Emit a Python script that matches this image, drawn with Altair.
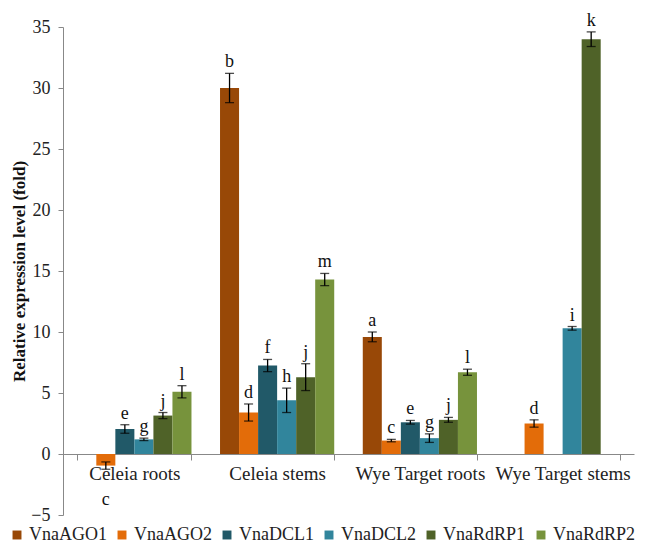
import altair as alt
import pandas as pd

groups = ["Celeia roots", "Celeia stems", "Wye Target roots", "Wye Target stems"]
genes = ["VnaAGO1", "VnaAGO2", "VnaDCL1", "VnaDCL2", "VnaRdRP1", "VnaRdRP2"]
colors = ["#984807", "#E36C09", "#215968", "#31859C", "#4F6228", "#77933C"]

# values per group, gene order as in `genes` (None = no bar)
values = {
    "Celeia roots":     [None, -0.95, 2.05, 1.2, 3.15, 5.1],
    "Celeia stems":     [30.0, 3.4, 7.25, 4.4, 6.3, 14.3],
    "Wye Target roots": [9.6, 1.1, 2.6, 1.3, 2.8, 6.7],
    "Wye Target stems": [None, 2.5, None, 10.3, 34.0, None],
}
errors = {
    "Celeia roots":     [None, 0.3, 0.35, 0.1, 0.25, 0.5],
    "Celeia stems":     [1.2, 0.7, 0.5, 1.0, 1.1, 0.5],
    "Wye Target roots": [0.4, 0.1, 0.15, 0.35, 0.2, 0.25],
    "Wye Target stems": [None, 0.3, None, 0.15, 0.6, None],
}
letters = {
    "Celeia roots":     [None, "c", "e", "g", "j", "l"],
    "Celeia stems":     ["b", "d", "f", "h", "j", "m"],
    "Wye Target roots": ["a", "c", "e", "g", "j", "l"],
    "Wye Target stems": [None, "d", None, "i", "k", None],
}

rows = []
for g in groups:
    for i, gene in enumerate(genes):
        v = values[g][i]
        if v is None:
            continue
        e = errors[g][i]
        rows.append({"group": g, "gene": gene, "value": v, "err": e,
                     "lo": v - e, "hi": v + e, "letter": letters[g][i]})
df = pd.DataFrame(rows)

FONT = "Liberation Serif"
H = 488
zero_offset = -round(H * 5 / 40)

x = alt.X("group:N", sort=groups, title=None,
          scale=alt.Scale(paddingInner=0.2, paddingOuter=0.1),
          axis=alt.Axis(offset=zero_offset, tickBand="extent", domainColor="#888888",
                        tickColor="#888888", tickSize=6, labelAngle=0,
                        labelFont=FONT, labelFontSize=19, labelColor="#222222",
                        labelPadding=4))
xo = alt.XOffset("gene:N", sort=genes, scale=alt.Scale(domain=genes, paddingInner=0, paddingOuter=0))
yscale = alt.Scale(domain=[-5, 35], nice=False)

base = alt.Chart(df)

bars = base.mark_bar().encode(
    x=x, xOffset=xo,
    y=alt.Y("value:Q", scale=yscale, title="Relative expression level (fold)",
            axis=alt.Axis(values=list(range(-5, 36, 5)), grid=False,
                          domainColor="#888888", tickColor="#888888", tickSize=5,
                          labelFont=FONT, labelFontSize=18, labelColor="#222222",
                          labelPadding=8, titleFont=FONT, titleFontSize=17,
                          titleFontWeight="bold", titleColor="#111111", titlePadding=2)),
    color=alt.Color("gene:N", sort=genes, scale=alt.Scale(domain=genes, range=colors),
                    legend=alt.Legend(title=None, orient="none", legendX=-55, legendY=H + 11,
                                      direction="horizontal", columns=6, symbolType="square",
                                      symbolSize=80, symbolStrokeWidth=0, labelFont=FONT,
                                      labelFontSize=18, labelColor="#222222",
                                      columnPadding=6, symbolOffset=0, labelOffset=3,
                                      labelLimit=200)),
)

rules = base.mark_rule(color="black", strokeWidth=1.3).encode(
    x=x, xOffset=xo, y=alt.Y("lo:Q", scale=yscale), y2="hi:Q")
caps_hi = base.mark_tick(color="black", thickness=1.3, size=9, orient="horizontal").encode(
    x=x, xOffset=xo, y=alt.Y("hi:Q", scale=yscale))
caps_lo = base.mark_tick(color="black", thickness=1.3, size=9, orient="horizontal").encode(
    x=x, xOffset=xo, y=alt.Y("lo:Q", scale=yscale))

lab_pos = base.transform_filter("datum.value >= 0").mark_text(
    font=FONT, fontSize=18, baseline="bottom", dy=-2, color="#111111").encode(
    x=x, xOffset=xo, y=alt.Y("hi:Q", scale=yscale), text="letter:N")
lab_neg = base.transform_filter("datum.value < 0").mark_text(
    font=FONT, fontSize=18, baseline="top", dy=22, color="#111111").encode(
    x=x, xOffset=xo, y=alt.Y("lo:Q", scale=yscale), text="letter:N")

chart = alt.layer(bars, rules, caps_hi, caps_lo, lab_pos, lab_neg).properties(
    width=571, height=H,
    autosize=alt.AutoSizeParams(type="none"),
    padding={"left": 55, "top": 19, "right": 10, "bottom": 28},
).configure_view(stroke=None).configure_axisY(domainWidth=1).configure_axisX(domainWidth=1)

chart.save("out.html", embed_options={"renderer": "svg", "actions": False})
